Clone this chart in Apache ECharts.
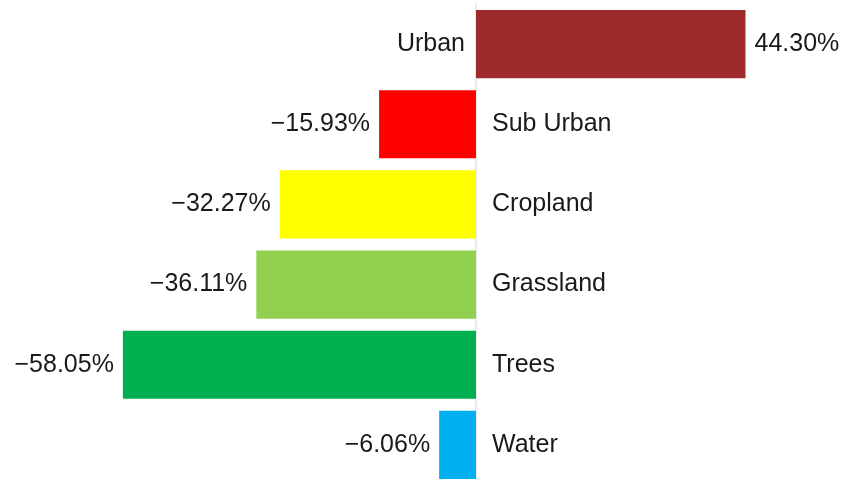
<!DOCTYPE html>
<html>
<head>
<meta charset="utf-8">
<script src="https://cdn.jsdelivr.net/npm/echarts@6/dist/echarts.min.js"></script>
<style>
  html, body { margin: 0; padding: 0; background: #fff; }
  #chart { width: 846px; height: 479px; }
</style>
</head>
<body>
<div id="chart"></div>
<script>
const categories = ['Urban', 'Sub Urban', 'Cropland', 'Grassland', 'Trees', 'Water']
const changes = [44.30, -15.93, -32.27, -36.11, -58.05, -6.06]
const barColors = ['#9e2a2b', '#ff0000', '#ffff00', '#92d050', '#00b050', '#00b0f0']

const chart = echarts.init(document.getElementById('chart'))

const fmt = v => (v < 0 ? '\u2212' : '') + Math.abs(v).toFixed(2) + '%'

chart.setOption({
  animation: false,
  grid: { left: 111, right: 5, top: 4, height: 481, outerBoundsMode: 'none' },
  xAxis: {
    type: 'value',
    min: -60,
    max: 60,
    show: false,
  },
  yAxis: {
    type: 'category',
    data: categories,
    inverse: true,
    axisLine: { onZero: true, lineStyle: { color: '#ebebeb', width: 2 } },
    axisTick: { show: false },
    axisLabel: { show: false },
  },
  series: [
    {
      type: 'bar',
      barCategoryGap: '15%',
      data: changes.map((v, i) => ({
        value: v,
        itemStyle: { color: barColors[i] },
        label: { position: v < 0 ? 'left' : 'right' },
      })),
      label: {
        show: true,
        distance: 9,
        color: '#1a1a1a',
        fontSize: 25,
        fontFamily: 'Liberation Sans, Arial, sans-serif',
        formatter: p => fmt(p.value),
      },
    },
    {
      // category names sit beside the zero line, opposite the bar
      type: 'scatter',
      symbolSize: 0,
      silent: true,
      itemStyle: { opacity: 1 },
      data: changes.map((v, i) => ({
        value: [0, i],
        label: {
          position: v < 0 ? 'right' : 'left',
          distance: v < 0 ? 16 : 11,
        },
      })),
      label: {
        show: true,
        color: '#1a1a1a',
        opacity: 1,
        fontSize: 25,
        fontFamily: 'Liberation Sans, Arial, sans-serif',
        formatter: p => categories[p.dataIndex],
      },
    },
  ],
})
</script>
</body>
</html>
